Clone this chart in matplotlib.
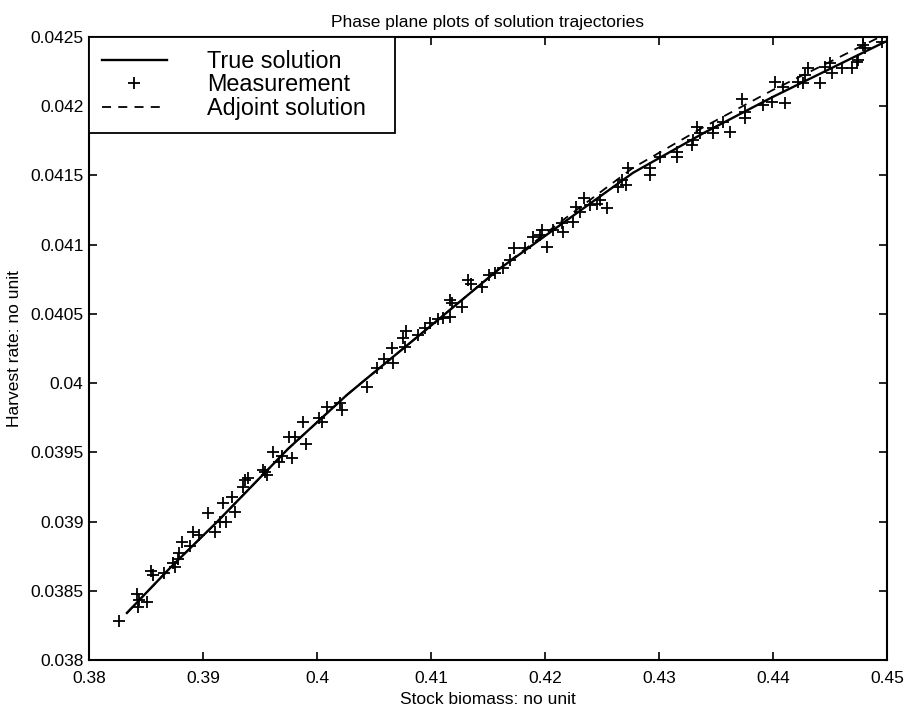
import numpy as np
import matplotlib
matplotlib.use("Agg")
import matplotlib.pyplot as plt

plt.rcParams['font.family'] = ['Liberation Sans', 'DejaVu Sans']

# True solution trajectory (stock biomass, harvest rate)
true_x = [0.38333, 0.38728, 0.39123, 0.39746, 0.40263, 0.40421, 0.41009,
          0.41588, 0.42184, 0.42772, 0.43395, 0.44000, 0.44500, 0.44982]
true_y = [0.038340, 0.038679, 0.038997, 0.039525, 0.039915, 0.040023, 0.040421,
          0.040818, 0.041172, 0.041519, 0.041808, 0.042068, 0.042270, 0.042465]

# Adjoint solution trajectory
adj_x = [0.38333, 0.38728, 0.39123, 0.39746, 0.40263, 0.40421, 0.41009,
         0.41588, 0.42184, 0.42772, 0.43395, 0.44000, 0.44500, 0.44939]
adj_y = [0.038340, 0.038679, 0.038997, 0.039525, 0.039915, 0.040023, 0.040421,
         0.040818, 0.041194, 0.041555, 0.041851, 0.042118, 0.042321, 0.042501]

# Noisy measurements
meas_x = [0.38266, 0.38424, 0.38441, 0.38432, 0.38506, 0.38544, 0.38564, 0.38661,
          0.38739, 0.38754, 0.38792, 0.38778, 0.38813, 0.38886, 0.38910, 0.38968,
          0.39105, 0.39149, 0.39202, 0.39047, 0.39178, 0.39281, 0.39252, 0.39354,
          0.39397, 0.39368, 0.39544, 0.39559, 0.39529, 0.39611, 0.39669, 0.39690,
          0.39778, 0.39757, 0.39807, 0.39904, 0.39880, 0.40020, 0.40041, 0.40085,
          0.40202, 0.40217, 0.40436, 0.40524, 0.40590, 0.40669, 0.40655, 0.40757,
          0.40772, 0.40778, 0.40889, 0.40947, 0.40991, 0.41064, 0.41108, 0.41167,
          0.41167, 0.41187, 0.41269, 0.41327, 0.41351, 0.41445, 0.41509, 0.41561,
          0.41634, 0.41693, 0.41728, 0.41825, 0.41897, 0.41971, 0.41956, 0.42015,
          0.42073, 0.42147, 0.42161, 0.42248, 0.42272, 0.42307, 0.42342, 0.42395,
          0.42454, 0.42482, 0.42546, 0.42643, 0.42673, 0.42711, 0.42731, 0.42921,
          0.42921, 0.43009, 0.43155, 0.43155, 0.43287, 0.43301, 0.43330, 0.43360,
          0.43476, 0.43476, 0.43564, 0.43623, 0.43726, 0.43754, 0.43754, 0.43915,
          0.43989, 0.44018, 0.44105, 0.44091, 0.44222, 0.44266, 0.44281, 0.44310,
          0.44412, 0.44456, 0.44500, 0.44515, 0.44602, 0.44690, 0.44734, 0.44748,
          0.44792, 0.44807, 0.44787, 0.44954]
meas_y = [0.038284, 0.038477, 0.038434, 0.038381, 0.038421, 0.038645, 0.038614, 0.038626,
          0.038699, 0.038674, 0.038771, 0.038728, 0.038855, 0.038824, 0.038927, 0.038903,
          0.038927, 0.038999, 0.038999, 0.039064, 0.039137, 0.039071, 0.039180, 0.039252,
          0.039313, 0.039300, 0.039360, 0.039337, 0.039373, 0.039505, 0.039433, 0.039474,
          0.039462, 0.039613, 0.039613, 0.039558, 0.039717, 0.039746, 0.039722, 0.039830,
          0.039855, 0.039806, 0.039975, 0.040108, 0.040173, 0.040148, 0.040252, 0.040324,
          0.040264, 0.040377, 0.040348, 0.040397, 0.040433, 0.040462, 0.040469, 0.040480,
          0.040601, 0.040581, 0.040553, 0.040746, 0.040717, 0.040697, 0.040782, 0.040794,
          0.040830, 0.040890, 0.040975, 0.040975, 0.041058, 0.041107, 0.041071, 0.040986,
          0.041107, 0.041155, 0.041094, 0.041167, 0.041275, 0.041239, 0.041336, 0.041287,
          0.041292, 0.041324, 0.041264, 0.041420, 0.041468, 0.041432, 0.041553, 0.041553,
          0.041504, 0.041636, 0.041672, 0.041636, 0.041721, 0.041757, 0.041853, 0.041805,
          0.041805, 0.041842, 0.041889, 0.041817, 0.042053, 0.041914, 0.041962, 0.042010,
          0.042034, 0.042178, 0.042022, 0.042142, 0.042178, 0.042167, 0.042227, 0.042275,
          0.042167, 0.042287, 0.042311, 0.042239, 0.042275, 0.042275, 0.042323, 0.042335,
          0.042443, 0.042420, 0.042503, 0.042467]

xticks = [0.38, 0.39, 0.40, 0.41, 0.42, 0.43, 0.44, 0.45]
xtick_labels = ['0.38', '0.39', '0.4', '0.41', '0.42', '0.43', '0.44', '0.45']
yticks = [0.038, 0.0385, 0.039, 0.0395, 0.040, 0.0405, 0.041, 0.0415, 0.042, 0.0425]
ytick_labels = ['0.038', '0.0385', '0.039', '0.0395', '0.04', '0.0405',
                '0.041', '0.0415', '0.042', '0.0425']

fig = plt.figure(figsize=(9.06, 7.08), dpi=100)
ax = fig.add_axes([0.0982, 0.0678, 0.8808, 0.8799])

ax.plot(true_x, true_y, color='k', lw=1.7, label='True solution')
ax.plot(meas_x, meas_y, linestyle='none', marker='+', color='k',
        markersize=8, markeredgewidth=1.3, label='Measurement')
ax.plot(adj_x, adj_y, color='k', lw=1.3, dashes=(5, 4), label='Adjoint solution')

ax.set_xlim(0.38, 0.45)
ax.set_ylim(0.038, 0.0425)
ax.set_xticks(xticks)
ax.set_xticklabels(xtick_labels)
ax.set_yticks(yticks)
ax.set_yticklabels(ytick_labels)
ax.tick_params(direction='in', length=6, width=1.2, labelsize=12.5,
               top=True, right=True)
ax.tick_params(axis='x', pad=8)
ax.tick_params(axis='y', pad=4)
for s in ax.spines.values():
    s.set_linewidth(1.5)

ax.set_title('Phase plane plots of solution trajectories', fontsize=12.5, pad=7)
ax.set_xlabel('Stock biomass: no unit', fontsize=12.5, labelpad=4)
ax.set_ylabel('Harvest rate: no unit', fontsize=12.5, labelpad=6)

# legend box spans a fixed width along the top-left corner
leg = ax.legend(loc='upper left', bbox_to_anchor=(0.0, 0.0, 0.3835, 1.0),
                mode='expand', borderaxespad=0, fontsize=16.8,
                fancybox=False, framealpha=1, edgecolor='k',
                handlelength=2.8, handletextpad=1.7, labelspacing=0.02,
                borderpad=0.55)
leg.get_frame().set_linewidth(1.3)

fig.savefig('out.png', dpi=100)
